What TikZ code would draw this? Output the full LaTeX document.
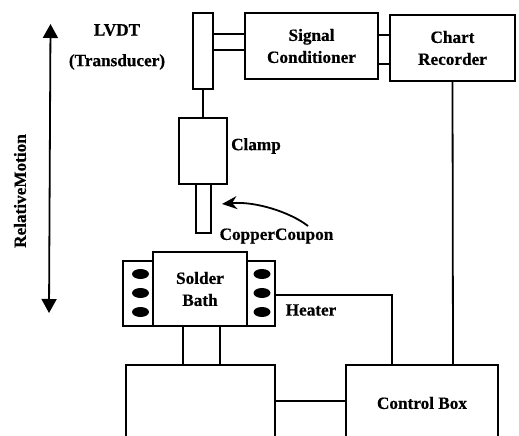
\documentclass[tikz,border=0pt]{standalone}
\usepackage{fontspec}
\setmainfont[BoldFeatures={FakeBold=0.5}]{Liberation Serif}
\usetikzlibrary{arrows.meta,calc,shapes.geometric}
\tikzset{
  boxnode/.style={draw=black,line width=1.8pt,inner sep=0pt,outer sep=0pt,align=center,fill=white,font=\fontsize{17.2}{22}\selectfont\bfseries},
  lbl/.style={inner sep=0pt,align=center,font=\fontsize{17.2}{22}\selectfont\bfseries},
  conn/.style={draw=black,line width=1.8pt},
  coil/.style={ellipse,fill=black,draw=none,minimum width=17pt,minimum height=10pt,inner sep=0pt},
}
\begin{document}
\begin{tikzpicture}[x=1pt,y=-1pt]
\useasboundingbox (0,0) rectangle (519,436);
\clip (0,0) rectangle (519,436);
\node[boxnode,minimum width=20pt,minimum height=76pt] (lvdt) at (203,51) {};
\node[boxnode,minimum width=133pt,minimum height=66pt] (signal) at (311.5,46) {Signal\\Conditioner};
\node[boxnode,minimum width=125pt,minimum height=66pt] (chart) at (452.5,48) {Chart\\Recorder};
\node[boxnode,minimum width=48pt,minimum height=66pt] (clamp) at (203,151) {};
\node[boxnode,minimum width=15pt,minimum height=49pt] (coupon) at (203.5,208.5) {};
\node[boxnode,minimum width=30pt,minimum height=65pt] (heatL) at (138,293.5) {};
\node[boxnode,minimum width=28pt,minimum height=65pt] (heatR) at (261,293.5) {};
\node[boxnode,minimum width=94pt,minimum height=74pt] (bath) at (200,289) {Solder\\Bath};
\node[boxnode,minimum width=149pt,minimum height=100pt] (tank) at (200.5,415) {};
\node[boxnode,minimum width=152pt,minimum height=100pt] (control) at (422,415) {};
\foreach \n/\yy in {a/274,b/293,c/312}{
  \node[coil] (cl\n) at (140.5,\yy) {};
  \node[coil] (cr\n) at (262,\yy) {};
}
\draw[conn] (lvdt.east |- 0,34) -- (signal.west |- 0,34);
\draw[conn] (lvdt.east |- 0,50) -- (signal.west |- 0,50);
\draw[conn] (signal.east |- 0,35) -- (chart.west |- 0,35);
\draw[conn] (signal.east |- 0,64) -- (chart.west |- 0,64);
\draw[conn] (lvdt.south) -- (clamp.north);
\draw[conn] (bath.south -| 183,0) -- (tank.north -| 183,0);
\draw[conn] (bath.south -| 220,0) -- (tank.north -| 220,0);
\draw[conn] (heatR.east |- 0,295) -| (control.north -| 392,0);
\draw[conn] (chart.south) -- (control.north -| 453,0);
\draw[conn] (tank.east |- 0,401) -- (control.west |- 0,401);
\node[lbl] (lvdtL) at (117,30) {LVDT};
\node[lbl] (transL) at (117,62) {(Transducer)};
\node[lbl] (clampL) at (256,146) {Clamp};
\node[lbl] (copperL) at (276.5,236) {CopperCoupon};
\node[lbl] (heaterL) at (311,310) {Heater};
\node[lbl] (ctrlL) at (422,403) {Control Box};
\node[lbl,rotate=90] (motionL) at (20,191) {RelativeMotion};
\coordinate (mtop) at (50.5,24);
\coordinate (mbot) at (49,313);
\draw[conn,{Triangle[length=14pt,width=15pt]}-{Triangle[length=14pt,width=15pt]}] (mtop) -- (mbot);
\coordinate (ptrS) at (308,226);
\coordinate (ptrE) at (222,204);
\draw[conn,-{Stealth[length=15pt,width=13pt]}] (ptrS) .. controls (290,212) and (255,201) .. (ptrE);
\end{tikzpicture}
\end{document}
